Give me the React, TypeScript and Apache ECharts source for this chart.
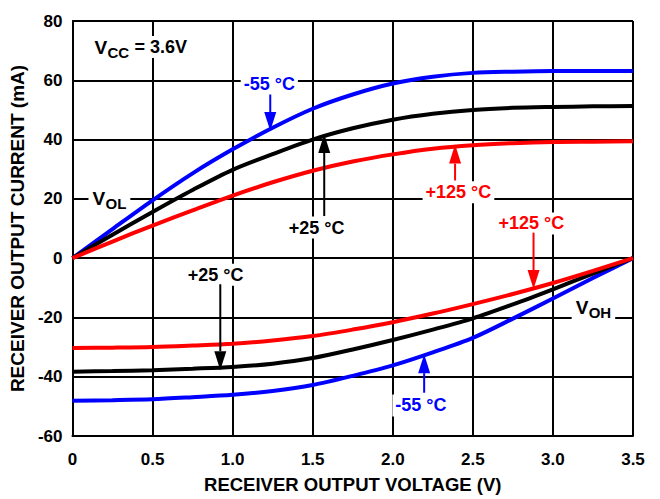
import React, { useEffect, useRef } from 'react';
import * as echarts from 'echarts';

// X axis: receiver output voltage (V)
const voltage = [0, 0.25, 0.5, 0.75, 1.0, 1.25, 1.5, 1.75, 2.0, 2.25, 2.5, 2.75, 3.0, 3.25, 3.5];
const xTickLabels = ['0', '0.5', '1.0', '1.5', '2.0', '2.5', '3.0', '3.5'];
const yTickLabels = ['-60', '-40', '-20', '0', '20', '40', '60', '80'];

// VOL curves (mA)
const volMinus55 = [0, 9.8, 19.5, 28.6, 36.7, 44.0, 50.4, 55.2, 58.9, 61.2, 62.5, 62.9, 63.1, 63.1, 63.1];
const volPlus25 = [0, 7.9, 15.6, 23.0, 29.8, 35.1, 40.0, 43.8, 46.7, 48.7, 50.0, 50.7, 51.0, 51.2, 51.3];
const volPlus125 = [0, 5.6, 11.0, 16.1, 21.1, 25.6, 29.5, 32.6, 35.0, 36.9, 38.1, 38.8, 39.2, 39.3, 39.4];

// VOH curves (mA)
const vohMinus55 = [-48.1, -47.9, -47.6, -46.9, -46.1, -44.8, -42.8, -39.7, -36.2, -31.8, -26.9, -20.4, -13.6, -6.7, 0];
const vohPlus25 = [-38.3, -38.1, -37.8, -37.3, -36.7, -35.6, -33.7, -30.8, -27.6, -24.1, -20.3, -15.6, -10.5, -5.2, 0];
const vohPlus125 = [-30.3, -30.2, -30.0, -29.5, -28.9, -27.8, -26.3, -24.1, -21.6, -18.7, -15.5, -12.1, -8.4, -4.3, 0];

const BLUE = '#0000ff';
const RED = '#ff0000';
const BLACK = '#000000';
const FONT = '"Liberation Sans", Arial, Helvetica, sans-serif';

// temperature annotations: [text, colour, x, y] in data units
const tempLabels: [string, string, number, number][] = [
  ['-55 °C', BLUE, 1.229, 58.9],
  ['+25 °C', BLACK, 1.524, 10.3],
  ['+125 °C', RED, 2.41, 22.2],
  ['+125 °C', RED, 2.865, 11.7],
  ['+25 °C', BLACK, 0.894, -5.6],
  ['-55 °C', BLUE, 2.176, -49.7],
];
// arrows: [colour, x, yFrom, yTip] in data units
const arrows: [string, number, number, number][] = [
  [BLUE, 1.235, 55.2, 42.9],
  [BLACK, 1.572, 14.2, 41.9],
  [RED, 2.389, 26.2, 38.3],
  [RED, 2.879, 8.6, -10.4],
  [BLACK, 0.923, -8.8, -37.8],
  [BLUE, 2.196, -45.4, -32.4],
];
// subscript labels: [main, sub, rest, x, y]
const subLabels: [string, string, string, number, number][] = [
  ['V', 'CC', ' = 3.6V', 0.112, 71.2],
  ['V', 'OL', '', 0.1, 20.0],
  ['V', 'OH', '', 3.117, -16.7],
];

function pairs(ys: number[]) {
  return voltage.map((x, i) => [x, ys[i]]);
}

export default function App() {
  const ref = useRef<HTMLDivElement>(null);
  useEffect(() => {
    if (!ref.current) return;
    const chart = echarts.init(ref.current, null, { renderer: 'svg' });
    const mk = (name: string, ys: number[], color: string) => ({
      name,
      type: 'line',
      data: pairs(ys),
      showSymbol: false,
      symbol: 'none',
      smooth: 0.3,
      lineStyle: { color, width: 4 },
      itemStyle: { color },
      z: 5,
    });
    const labelStyle = { color: BLACK, fontFamily: FONT, fontWeight: 'bold', fontSize: 17 };
    chart.setOption({
      animation: false,
      backgroundColor: '#ffffff',
      grid: { left: 72, right: 27, top: 21, bottom: 57, containLabel: false },
      xAxis: {
        type: 'value',
        min: 0,
        max: 3.5,
        interval: 0.5,
        name: 'RECEIVER OUTPUT VOLTAGE (V)',
        nameLocation: 'middle',
        nameGap: 39,
        nameTextStyle: { ...labelStyle, fontSize: 18.5 },
        axisLine: { show: true, onZero: false, lineStyle: { color: BLACK, width: 2 } },
        axisTick: { show: false },
        axisLabel: {
          ...labelStyle,
          margin: 15,
          formatter: (v: number) => xTickLabels[Math.round(v / 0.5)] ?? '',
        },
        splitLine: { show: true, lineStyle: { color: BLACK, width: 2 } },
      },
      yAxis: {
        type: 'value',
        min: -60,
        max: 80,
        interval: 20,
        name: 'RECEIVER OUTPUT CURRENT (mA)',
        nameLocation: 'middle',
        nameGap: 40,
        nameTextStyle: { ...labelStyle, fontSize: 19 },
        axisLine: { show: true, onZero: false, lineStyle: { color: BLACK, width: 2 } },
        axisTick: { show: false },
        axisLabel: {
          ...labelStyle,
          margin: 10,
          formatter: (v: number) => yTickLabels[Math.round((v + 60) / 20)] ?? '',
        },
        splitLine: { show: true, lineStyle: { color: BLACK, width: 2 } },
      },
      series: [
        mk('VOL -55 °C', volMinus55, BLUE),
        mk('VOL +25 °C', volPlus25, BLACK),
        mk('VOL +125 °C', volPlus125, RED),
        mk('VOH -55 °C', vohMinus55, BLUE),
        mk('VOH +25 °C', vohPlus25, BLACK),
        mk('VOH +125 °C', vohPlus125, RED),
      ],
    });

    const px = (x: number, y: number) => chart.convertToPixel({ gridIndex: 0 }, [x, y]) as number[];
    const graphic: any[] = [];
    tempLabels.forEach(([text, color, x, y]) => {
      const [cx, cy] = px(x, y);
      graphic.push({
        type: 'text',
        z: 100,
        style: {
          text, x: cx, y: cy, fill: color, fontFamily: FONT, fontWeight: 'bold', fontSize: 18,
          align: 'center', verticalAlign: 'middle', backgroundColor: '#ffffff', padding: [2, 3],
        },
      });
    });
    arrows.forEach(([color, x, y0, y1]) => {
      const [ax, ay0] = px(x, y0);
      const [, ay1] = px(x, y1);
      const dir = ay0 > ay1 ? 1 : -1;
      const headLen = 19;
      const headHalf = 6;
      const base = ay1 + dir * headLen;
      graphic.push({
        type: 'line',
        z: 100,
        shape: { x1: ax, y1: ay0, x2: ax, y2: base },
        style: { stroke: color, lineWidth: 2 },
      });
      graphic.push({
        type: 'polygon',
        z: 100,
        shape: { points: [[ax - headHalf, base], [ax + headHalf, base], [ax, ay1]] },
        style: { fill: color },
      });
    });
    subLabels.forEach(([main, sub, rest, x, y]) => {
      const [lx, ly] = px(x, y);
      const common = { fill: BLACK, fontFamily: FONT, fontWeight: 'bold', verticalAlign: 'middle', align: 'left', backgroundColor: '#ffffff' };
      graphic.push({ type: 'text', z: 100, style: { ...common, text: main, x: lx, y: ly, fontSize: 19, padding: [2, 1, 2, 4] } });
      graphic.push({ type: 'text', z: 100, style: { ...common, text: sub, x: lx + 17, y: ly + 5, fontSize: 15, padding: [1, 4, 1, 0] } });
      if (rest) {
        graphic.push({ type: 'text', z: 100, style: { ...common, text: rest, x: lx + 39, y: ly, fontSize: 18, padding: [2, 3, 2, 0] } });
      }
    });
    chart.setOption({ graphic });

    return () => chart.dispose();
  }, []);
  return <div ref={ref} style={{ position: 'fixed', left: 0, top: 0, width: 660, height: 499 }} />;
}
